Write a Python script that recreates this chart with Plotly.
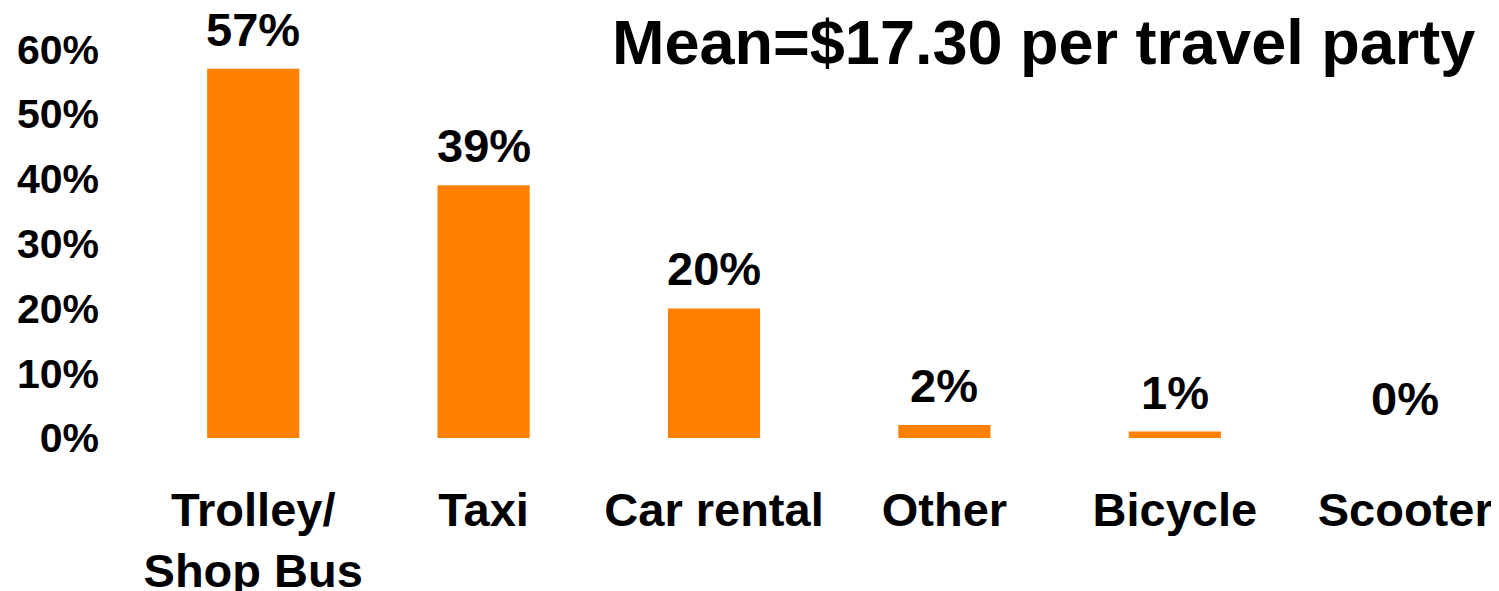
import plotly.graph_objects as go

categories = ["Trolley/<br>Shop Bus", "Taxi", "Car rental", "Other", "Bicycle", "Scooter"]
values = [57, 39, 20, 2, 1, 0]
value_labels = ["57%", "39%", "20%", "2%", "1%", "0%"]
y_tickvals = [0, 10, 20, 30, 40, 50, 60]
y_ticktext = ["0%", "10%", "20%", "30%", "40%", "50%", "60%"]
title_text = "Mean=$17.30 per travel party"

FONT = "Arial, Liberation Sans, sans-serif"
ORANGE = "#FF7F00"

# page body has an 8px margin, so the figure is drawn 8px in from top-left
OFF = 8
W, H = 1499 - OFF, 591 - OFF
L, R, T, B = 138 - OFF, 0, 2, 153
plot_w = W - L - R
plot_h = H - T - B
px_per_cat = 230.4
px_per_unit = 6.48

fig = go.Figure()
fig.add_trace(go.Bar(
    x=list(range(len(categories))),
    y=values,
    width=0.4,
    marker=dict(color=ORANGE, line=dict(width=0)),
    hoverinfo="skip",
))

for i, (v, lab) in enumerate(zip(values, value_labels)):
    fig.add_annotation(
        x=i, y=v, xref="x", yref="y",
        text=lab, showarrow=False,
        xanchor="center", yanchor="bottom", yshift=11,
        font=dict(family=FONT, size=47, color="black", weight="bold"),
    )

fig.add_annotation(
    x=(1477 - OFF - L) / plot_w, y=(H - B - (42 - OFF)) / plot_h,
    xref="paper", yref="paper",
    text=title_text, showarrow=False,
    xanchor="right", yanchor="middle",
    font=dict(family=FONT, size=63, color="black", weight="bold"),
)

fig.update_layout(
    width=W, height=H,
    margin=dict(l=L, r=R, t=T, b=B, pad=0),
    plot_bgcolor="white", paper_bgcolor="white",
    showlegend=False,
    xaxis=dict(
        range=[-0.5, -0.5 + plot_w / px_per_cat],
        tickmode="array",
        tickvals=list(range(len(categories))),
        ticktext=categories,
        showgrid=False, zeroline=False, showline=False, ticks="",
        tickfont=dict(family=FONT, size=47, color="black", weight="bold"),
        ticklabelstandoff=40,
        automargin=False,
        fixedrange=True,
    ),
    yaxis=dict(
        range=[0, plot_h / px_per_unit],
        tickmode="array",
        tickvals=y_tickvals,
        ticktext=y_ticktext,
        showgrid=False, zeroline=False, showline=False, ticks="",
        tickfont=dict(family=FONT, size=41, color="black", weight="bold"),
        ticklabelstandoff=38,
        automargin=False,
        fixedrange=True,
    ),
)

fig.write_html("out.html")
